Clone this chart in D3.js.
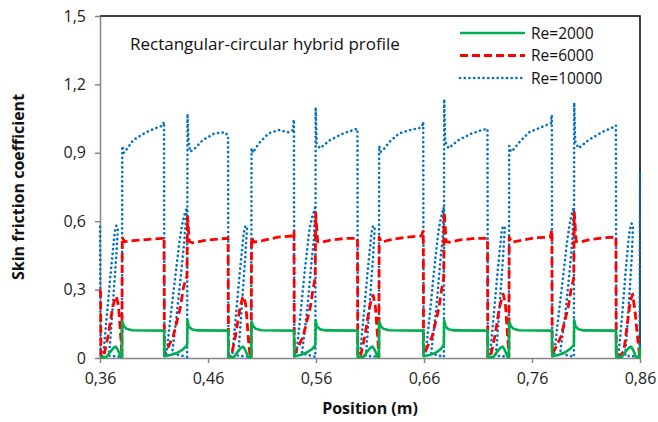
<!DOCTYPE html>
<html><head><meta charset="utf-8">
<script src="https://cdn.jsdelivr.net/npm/d3@7"></script>
<style>
body{margin:0;background:#fff}
svg{display:block}
text{font-family:"Open Sans",sans-serif}
</style></head>
<body><svg id="chart" width="658" height="422"></svg>
<script>
const chartTitle = "Rectangular-circular hybrid profile";
const xTitle = "Position (m)";
const yTitle = "Skin friction coefficient";
const seriesNames = ["Re=2000", "Re=6000", "Re=10000"];
const xTickValues = [0.36, 0.46, 0.56, 0.66, 0.76, 0.86];
const xTickLabels = ["0,36", "0,46", "0,56", "0,66", "0,76", "0,86"];
const yTickValues = [0, 0.3, 0.6, 0.9, 1.2, 1.5];
const yTickLabels = ["0", "0,3", "0,6", "0,9", "1,2", "1,5"];

const re2000 = [
[0.3600,0.004],[0.3661,0.004],[0.3691,0.025],[0.3726,0.045],[0.3746,0.05],[0.3766,0.035],[0.3791,0.005],[0.3803,0.004],[0.3806,0.16],[0.3821,0.14],[0.3846,0.128],[0.3896,0.122],[0.4190,0.12],
[0.4193,0.12],[0.4196,0.008],[0.4253,0.013],[0.4313,0.022],[0.4363,0.036],[0.4395,0.05],[0.4407,0.06],[0.4410,0.165],[0.4422,0.138],[0.4450,0.126],[0.4500,0.121],[0.4783,0.12],
[0.4786,0.12],[0.4789,0.005],[0.4841,0.004],[0.4871,0.025],[0.4906,0.045],[0.4926,0.05],[0.4946,0.035],[0.4971,0.005],[0.5000,0.004],[0.5003,0.16],[0.5018,0.14],[0.5043,0.128],[0.5093,0.122],[0.5393,0.12],
[0.5396,0.12],[0.5399,0.008],[0.5456,0.013],[0.5516,0.024],[0.5566,0.04],[0.5587,0.052],[0.5594,0.06],[0.5597,0.165],[0.5609,0.138],[0.5637,0.126],[0.5687,0.121],[0.5981,0.12],
[0.5984,0.12],[0.5987,0.005],[0.6039,0.004],[0.6069,0.025],[0.6104,0.045],[0.6124,0.05],[0.6144,0.035],[0.6169,0.005],[0.6182,0.004],[0.6185,0.16],[0.6200,0.14],[0.6225,0.128],[0.6275,0.122],[0.6590,0.12],
[0.6593,0.12],[0.6596,0.008],[0.6653,0.013],[0.6713,0.024],[0.6758,0.04],[0.6777,0.052],[0.6784,0.06],[0.6787,0.165],[0.6799,0.138],[0.6827,0.126],[0.6877,0.121],[0.7185,0.12],
[0.7188,0.12],[0.7191,0.005],[0.7243,0.004],[0.7273,0.025],[0.7308,0.045],[0.7328,0.05],[0.7348,0.035],[0.7373,0.005],[0.7386,0.004],[0.7389,0.16],[0.7404,0.14],[0.7429,0.128],[0.7479,0.122],[0.7781,0.12],
[0.7784,0.12],[0.7787,0.008],[0.7844,0.013],[0.7904,0.024],[0.7954,0.04],[0.7979,0.052],[0.7988,0.06],[0.7991,0.165],[0.8003,0.138],[0.8031,0.126],[0.8081,0.121],[0.8374,0.12],
[0.8377,0.12],[0.8380,0.005],[0.8432,0.004],[0.8462,0.025],[0.8497,0.045],[0.8517,0.05],[0.8537,0.035],[0.8562,0.005],[0.8597,0.004],[0.8600,0.05]
];

const re6000 = [
[0.3600,0.30],[0.3605,0.29],[0.3609,0.005],[0.3636,0.01],[0.3676,0.1],[0.3716,0.22],[0.3741,0.265],[0.3751,0.27],[0.3771,0.23],[0.3796,0.07],[0.3803,0.005],[0.3806,0.53],[0.3826,0.51],[0.3906,0.515],[0.4050,0.52],[0.4180,0.525],[0.4190,0.53],
[0.4193,0.53],[0.4196,0.02],[0.4218,0.035],[0.4278,0.095],[0.4343,0.22],[0.4373,0.31],[0.4405,0.36],[0.4410,0.62],[0.4428,0.51],[0.4460,0.505],[0.4560,0.515],[0.4700,0.522],[0.4783,0.525],
[0.4786,0.525],[0.4789,0.005],[0.4816,0.01],[0.4856,0.1],[0.4896,0.22],[0.4921,0.265],[0.4931,0.27],[0.4951,0.23],[0.4976,0.07],[0.4991,0.005],[0.5000,0.003],[0.5003,0.53],[0.5023,0.508],[0.5103,0.515],[0.5250,0.53],[0.5375,0.535],[0.5392,0.555],
[0.5396,0.555],[0.5399,0.02],[0.5421,0.035],[0.5481,0.095],[0.5546,0.22],[0.5572,0.3],[0.5592,0.35],[0.5597,0.635],[0.5615,0.51],[0.5647,0.508],[0.5747,0.518],[0.5887,0.525],[0.5981,0.525],
[0.5984,0.525],[0.5987,0.005],[0.6014,0.01],[0.6054,0.1],[0.6094,0.22],[0.6119,0.265],[0.6129,0.275],[0.6149,0.23],[0.6174,0.07],[0.6182,0.005],[0.6185,0.53],[0.6205,0.508],[0.6285,0.518],[0.6430,0.53],[0.6575,0.535],[0.6590,0.555],
[0.6593,0.555],[0.6596,0.02],[0.6618,0.035],[0.6676,0.095],[0.6738,0.22],[0.6763,0.3],[0.6782,0.35],[0.6787,0.64],[0.6805,0.51],[0.6837,0.508],[0.6937,0.518],[0.7080,0.525],[0.7185,0.525],
[0.7188,0.525],[0.7191,0.005],[0.7218,0.01],[0.7258,0.1],[0.7298,0.22],[0.7323,0.265],[0.7333,0.28],[0.7353,0.24],[0.7378,0.07],[0.7386,0.005],[0.7389,0.53],[0.7409,0.508],[0.7489,0.515],[0.7630,0.528],[0.7770,0.53],[0.7782,0.56],
[0.7784,0.56],[0.7787,0.02],[0.7809,0.035],[0.7869,0.095],[0.7934,0.22],[0.7962,0.3],[0.7986,0.35],[0.7991,0.64],[0.8009,0.51],[0.8041,0.508],[0.8141,0.52],[0.8280,0.528],[0.8374,0.53],
[0.8377,0.53],[0.8380,0.005],[0.8407,0.005],[0.8450,0.03],[0.8480,0.14],[0.8510,0.25],[0.8532,0.28],[0.8555,0.2],[0.8580,0.08],[0.8598,0.005]
];

const re10000 = [
[0.3600,0.575],[0.3606,0.005],[0.3629,0.01],[0.3666,0.2],[0.3696,0.36],[0.3721,0.48],[0.3736,0.55],[0.3751,0.58],[0.3766,0.57],[0.3751,0.45],[0.3721,0.25],[0.3691,0.05],[0.3681,0.01],[0.3803,0.005],[0.3806,0.93],[0.3821,0.9],[0.3846,0.915],[0.3906,0.955],[0.4026,0.99],[0.4126,1.01],[0.4183,1.02],[0.4190,1.035],
[0.4193,1.035],[0.4196,0.005],[0.4216,0.02],[0.4253,0.18],[0.4293,0.34],[0.4333,0.5],[0.4358,0.58],[0.4383,0.63],[0.4405,0.66],[0.4378,0.5],[0.4348,0.36],[0.4308,0.18],[0.4268,0.02],[0.4407,0.005],[0.4410,1.07],[0.4420,0.95],[0.4435,0.905],[0.4470,0.915],[0.4550,0.955],[0.4660,0.985],[0.4760,0.99],[0.4783,0.975],
[0.4786,0.975],[0.4789,0.005],[0.4824,0.01],[0.4861,0.2],[0.4891,0.36],[0.4916,0.48],[0.4931,0.55],[0.4946,0.58],[0.4961,0.57],[0.4946,0.45],[0.4916,0.25],[0.4886,0.05],[0.4876,0.01],[0.5000,0.005],[0.5003,0.92],[0.5015,0.9],[0.5068,0.94],[0.5160,0.985],[0.5253,1.0],[0.5346,0.99],[0.5388,1.0],[0.5393,1.045],
[0.5396,1.045],[0.5399,0.005],[0.5419,0.02],[0.5456,0.19],[0.5491,0.36],[0.5521,0.49],[0.5541,0.57],[0.5566,0.62],[0.5592,0.66],[0.5580,0.52],[0.5560,0.43],[0.5520,0.22],[0.5470,0.02],[0.5594,0.005],[0.5597,1.1],[0.5606,0.94],[0.5637,0.92],[0.5730,0.956],[0.5853,0.985],[0.5946,1.0],[0.5981,1.005],
[0.5984,1.005],[0.5987,0.005],[0.6007,0.01],[0.6044,0.2],[0.6074,0.36],[0.6099,0.48],[0.6114,0.55],[0.6129,0.58],[0.6144,0.57],[0.6129,0.45],[0.6099,0.25],[0.6069,0.05],[0.6059,0.01],[0.6182,0.005],[0.6185,0.93],[0.6200,0.905],[0.6225,0.915],[0.6285,0.95],[0.6370,0.985],[0.6470,1.0],[0.6570,1.01],[0.6585,1.02],[0.6590,1.035],
[0.6593,1.035],[0.6596,0.005],[0.6616,0.02],[0.6653,0.19],[0.6688,0.36],[0.6718,0.49],[0.6738,0.57],[0.6760,0.62],[0.6782,0.66],[0.6772,0.52],[0.6752,0.43],[0.6714,0.22],[0.6666,0.02],[0.6784,0.005],[0.6787,1.135],[0.6796,0.95],[0.6827,0.92],[0.6920,0.956],[0.7043,0.985],[0.7136,1.0],[0.7185,1.005],
[0.7188,1.005],[0.7191,0.005],[0.7211,0.01],[0.7248,0.2],[0.7278,0.36],[0.7303,0.48],[0.7318,0.55],[0.7333,0.58],[0.7348,0.57],[0.7333,0.45],[0.7303,0.25],[0.7273,0.05],[0.7263,0.01],[0.7386,0.005],[0.7389,0.93],[0.7404,0.905],[0.7429,0.915],[0.7489,0.95],[0.7574,0.99],[0.7674,1.01],[0.7775,1.03],[0.7781,1.065],
[0.7784,1.065],[0.7787,0.005],[0.7807,0.02],[0.7844,0.18],[0.7884,0.34],[0.7922,0.5],[0.7946,0.58],[0.7968,0.63],[0.7986,0.66],[0.7974,0.52],[0.7952,0.4],[0.7910,0.2],[0.7860,0.02],[0.7988,0.005],[0.7991,1.12],[0.8000,0.95],[0.8031,0.92],[0.8124,0.956],[0.8247,0.99],[0.8340,1.01],[0.8374,1.02],
[0.8377,1.02],[0.8380,0.005],[0.8400,0.01],[0.8437,0.2],[0.8467,0.38],[0.8490,0.5],[0.8505,0.56],[0.8522,0.59],[0.8535,0.58],[0.8525,0.45],[0.8505,0.3],[0.8477,0.1],[0.8462,0.01],[0.8596,0.005],[0.8600,0.815]
];

const colors = ["#00B050", "#FF0000", "#0070C0"];

const svg = d3.select("#chart");
const L = 100, R = 640, T = 16, B = 358;
const x = d3.scaleLinear().domain([0.36, 0.86]).range([L, R]);
const y = d3.scaleLinear().domain([0, 1.5]).range([B, T]);

// plot border (top/right black)
svg.append("path").attr("d", `M${L},${T}H${R}V${B}`).attr("fill","none").attr("stroke","#000").attr("stroke-width",1.5);

const axisColor = "#868686";
const gy = svg.append("g").attr("transform", `translate(${L},0)`)
  .call(d3.axisLeft(y).tickValues(yTickValues).tickFormat((d,i)=>yTickLabels[i]).tickSizeInner(5).tickSizeOuter(0).tickPadding(9));
const gx = svg.append("g").attr("transform", `translate(0,${B})`)
  .call(d3.axisBottom(x).tickValues(xTickValues).tickFormat((d,i)=>xTickLabels[i]).tickSizeInner(5).tickSizeOuter(0).tickPadding(10));
[gx, gy].forEach(g => {
  g.select(".domain").attr("stroke", axisColor).attr("stroke-width", 1.5);
  g.selectAll(".tick line").attr("stroke", axisColor).attr("stroke-width", 1.5);
  g.selectAll(".tick text").attr("fill", "#222").style("font-size", "16px").style("font-family", '"Open Sans",sans-serif');
});

const line = d3.line().x(d => x(d[0])).y(d => y(d[1]));
const styles = [
  {w: 2.6, dash: null, cap: "butt"},
  {w: 2.8, dash: "8,4", cap: "butt"},
  {w: 2.6, dash: "0.1,4.6", cap: "round"}
];
const data = [re2000, re6000, re10000];
[2, 1, 0].forEach(i => {
  svg.append("path").datum(data[i]).attr("d", line)
    .attr("fill", "none").attr("stroke", colors[i])
    .attr("stroke-width", styles[i].w)
    .attr("stroke-dasharray", styles[i].dash)
    .attr("stroke-linecap", styles[i].cap)
    .attr("stroke-linejoin", "round");
});

// Title inside plot
svg.append("text").attr("x", 130).attr("y", 50).text(chartTitle)
  .style("font-size", "17px").attr("fill", "#111");

// Legend
const lg = svg.append("g");
seriesNames.forEach((name, i) => {
  const yy = 33 + i * 22.5;
  lg.append("line").attr("x1", 460).attr("x2", 525).attr("y1", yy).attr("y2", yy)
    .attr("stroke", colors[i]).attr("stroke-width", styles[i].w)
    .attr("stroke-dasharray", styles[i].dash).attr("stroke-linecap", styles[i].cap);
  lg.append("text").attr("x", 531).attr("y", yy + 5.5).text(name)
    .style("font-size", "15.5px").attr("fill", "#111");
});

// Axis titles
svg.append("text").attr("x", (L + R) / 2).attr("y", 414).attr("text-anchor", "middle")
  .text(xTitle).style("font-size", "16px").style("font-weight", "bold").attr("fill", "#111");
svg.append("text").attr("transform", `translate(24,${(T + B) / 2}) rotate(-90)`).attr("text-anchor", "middle")
  .text(yTitle).style("font-size", "16px").style("font-weight", "bold").attr("fill", "#111");
</script>
</body></html>
